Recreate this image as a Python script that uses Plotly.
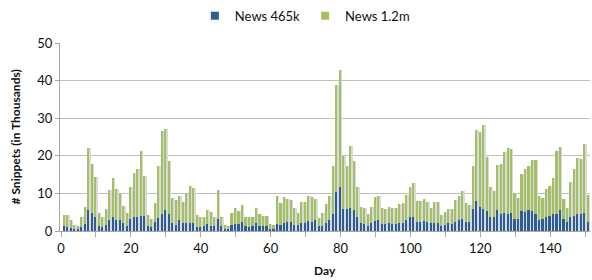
import plotly.graph_objects as go

days = list(range(1, 152))

news_1_2m = [
    4.3, 4.3, 2.9, 1.5, 1.3, 3.6, 6.4, 22.0, 17.8, 14.4,
    4.7, 3.8, 5.8, 10.8, 14.0, 11.2, 10.0, 6.7, 4.7, 11.6,
    15.4, 16.4, 21.3, 14.7, 4.3, 3.1, 7.4, 17.2, 26.5, 27.1,
    18.5, 8.7, 8.3, 9.3, 7.8, 9.9, 12.0, 11.5, 4.3, 3.6,
    3.6, 5.6, 5.0, 3.6, 10.8, 3.8, 1.7, 1.2, 4.9, 6.0,
    5.3, 6.8, 3.8, 3.6, 3.8, 6.0, 4.4, 4.0, 4.0, 1.8,
    1.6, 9.3, 7.4, 9.0, 8.5, 8.3, 6.1, 4.7, 7.8, 7.6,
    9.3, 9.0, 8.5, 3.4, 4.9, 7.2, 9.3, 17.4, 38.8, 42.9,
    20.0, 17.4, 22.5, 18.7, 11.6, 6.5, 6.0, 4.5, 6.3, 9.0,
    9.2, 6.2, 5.8, 6.3, 6.2, 6.0, 7.2, 7.4, 9.6, 11.6,
    12.7, 8.0, 8.0, 8.4, 7.8, 6.0, 7.6, 7.6, 4.3, 5.0,
    5.9, 5.9, 8.3, 9.4, 10.7, 7.4, 6.9, 17.2, 26.8, 26.2,
    28.3, 19.8, 11.6, 10.7, 17.6, 17.9, 21.0, 22.0, 21.9, 10.2,
    8.7, 15.2, 16.4, 17.4, 18.9, 18.9, 9.2, 8.7, 11.1, 12.0,
    14.2, 21.3, 22.3, 8.4, 6.2, 13.1, 16.5, 19.4, 19.2, 23.2,
    9.6,
]

news_465k = [
    1.2, 1.0, 0.9, 0.5, 0.3, 1.0, 1.9, 5.6, 4.7, 3.6,
    1.3, 1.0, 1.6, 2.8, 3.8, 2.9, 2.8, 2.0, 1.3, 3.2,
    3.6, 3.6, 4.0, 4.0, 1.3, 1.0, 2.3, 3.4, 4.5, 5.6,
    4.5, 2.0, 1.6, 2.9, 2.0, 2.0, 2.0, 2.2, 1.0, 1.0,
    1.2, 1.9, 1.3, 1.2, 3.3, 1.2, 0.6, 0.4, 1.6, 1.9,
    1.9, 2.5, 1.2, 1.0, 1.2, 2.0, 1.3, 1.3, 1.3, 0.5,
    0.5, 1.9, 1.6, 2.0, 2.5, 2.5, 1.6, 1.6, 2.0, 2.0,
    2.7, 2.5, 2.9, 1.2, 1.3, 2.0, 2.9, 4.5, 10.3, 11.6,
    5.8, 5.8, 6.0, 5.6, 3.6, 2.1, 1.9, 1.2, 2.2, 2.7,
    2.9, 1.9, 1.9, 2.0, 1.9, 1.9, 2.0, 2.0, 2.9, 3.6,
    3.8, 2.5, 2.5, 2.7, 2.5, 2.0, 2.2, 2.2, 1.2, 1.5,
    2.0, 1.9, 2.5, 2.9, 3.2, 2.5, 2.3, 5.9, 8.0, 6.3,
    5.8, 5.4, 3.6, 3.6, 5.6, 4.4, 4.7, 4.4, 4.7, 3.1,
    3.1, 5.3, 5.1, 5.6, 5.3, 4.4, 2.9, 3.1, 3.7, 4.0,
    4.5, 4.4, 5.6, 3.1, 2.5, 3.7, 4.0, 4.4, 4.4, 4.7,
    2.3,
]

y_ticks = [0, 10, 20, 30, 40, 50]
x_ticks = [0, 20, 40, 60, 80, 100, 120, 140]

BLUE = "#2C5D97"
GREEN = "#A3C164"
SHADOW = "#D9D9D9"
FONT = "Lato, 'Liberation Sans', Arial, sans-serif"
TXT = "#111111"

fig = go.Figure()

# soft shadow to the right of each bar
fig.add_trace(go.Bar(
    x=days, y=news_1_2m, width=0.5, offset=0.0,
    marker=dict(color=SHADOW, line=dict(width=0)),
    showlegend=False, hoverinfo="skip",
))
fig.add_trace(go.Bar(
    x=days, y=news_1_2m, name="News 1.2m", width=0.6, offset=-0.5,
    marker=dict(color=GREEN, line=dict(width=0)),
    showlegend=False,
))
fig.add_trace(go.Bar(
    x=days, y=news_465k, name="News 465k", width=0.6, offset=-0.5,
    marker=dict(color=BLUE, line=dict(width=0)),
    showlegend=False,
))
# legend entries (small squares)
fig.add_trace(go.Scatter(
    x=[None], y=[None], mode="markers", name="News 465k",
    marker=dict(symbol="square", size=8, color=BLUE),
))
fig.add_trace(go.Scatter(
    x=[None], y=[None], mode="markers", name="News 1.2m",
    marker=dict(symbol="square", size=8, color=GREEN),
))

fig.update_layout(
    width=592, height=280,
    barmode="overlay",
    bargap=0,
    plot_bgcolor="white",
    paper_bgcolor="white",
    margin=dict(l=60, r=2, t=43, b=49, autoexpand=False),
    font=dict(family=FONT, size=13, color=TXT),
    legend=dict(
        orientation="h", x=0.462, xanchor="center", y=1.145, yanchor="middle",
        font=dict(size=13, color=TXT), itemwidth=30,
        traceorder="normal", bgcolor="rgba(0,0,0,0)",
    ),
    xaxis=dict(
        range=[-0.3, 151.4],
        tickvals=x_ticks,
        ticks="outside", ticklen=5, tickcolor="#A6A6A6",
        minor=dict(dtick=10, tick0=0, ticks="outside", ticklen=5, tickcolor="#A6A6A6"),
        showgrid=False, zeroline=False, automargin=False,
        showline=True, linecolor="#A6A6A6", linewidth=1,
        tickfont=dict(size=13, color=TXT),
    ),
    yaxis=dict(
        range=[0, 50],
        tickvals=y_ticks,
        ticks="outside", ticklen=4, tickcolor="#A6A6A6",
        showgrid=True, gridcolor="#BFBFBF", gridwidth=1,
        zeroline=False, automargin=False,
        showline=True, linecolor="#A6A6A6", linewidth=1,
        tickfont=dict(size=13, color=TXT),
    ),
    annotations=[
        dict(text="<b>Day</b>", xref="paper", yref="paper", x=0.5, y=-0.212,
             xanchor="center", yanchor="middle", showarrow=False,
             font=dict(size=12, color=TXT)),
        dict(text="<b># Snippets (in Thousands)</b>", xref="paper", yref="paper",
             x=-0.084, y=0.5, xanchor="center", yanchor="middle", textangle=-90,
             showarrow=False, font=dict(size=12, color=TXT)),
    ],
)

fig.write_html(
    "out.html",
    config={"displayModeBar": False},
    post_script="document.body.style.margin='0';document.body.style.overflow='hidden';",
)
